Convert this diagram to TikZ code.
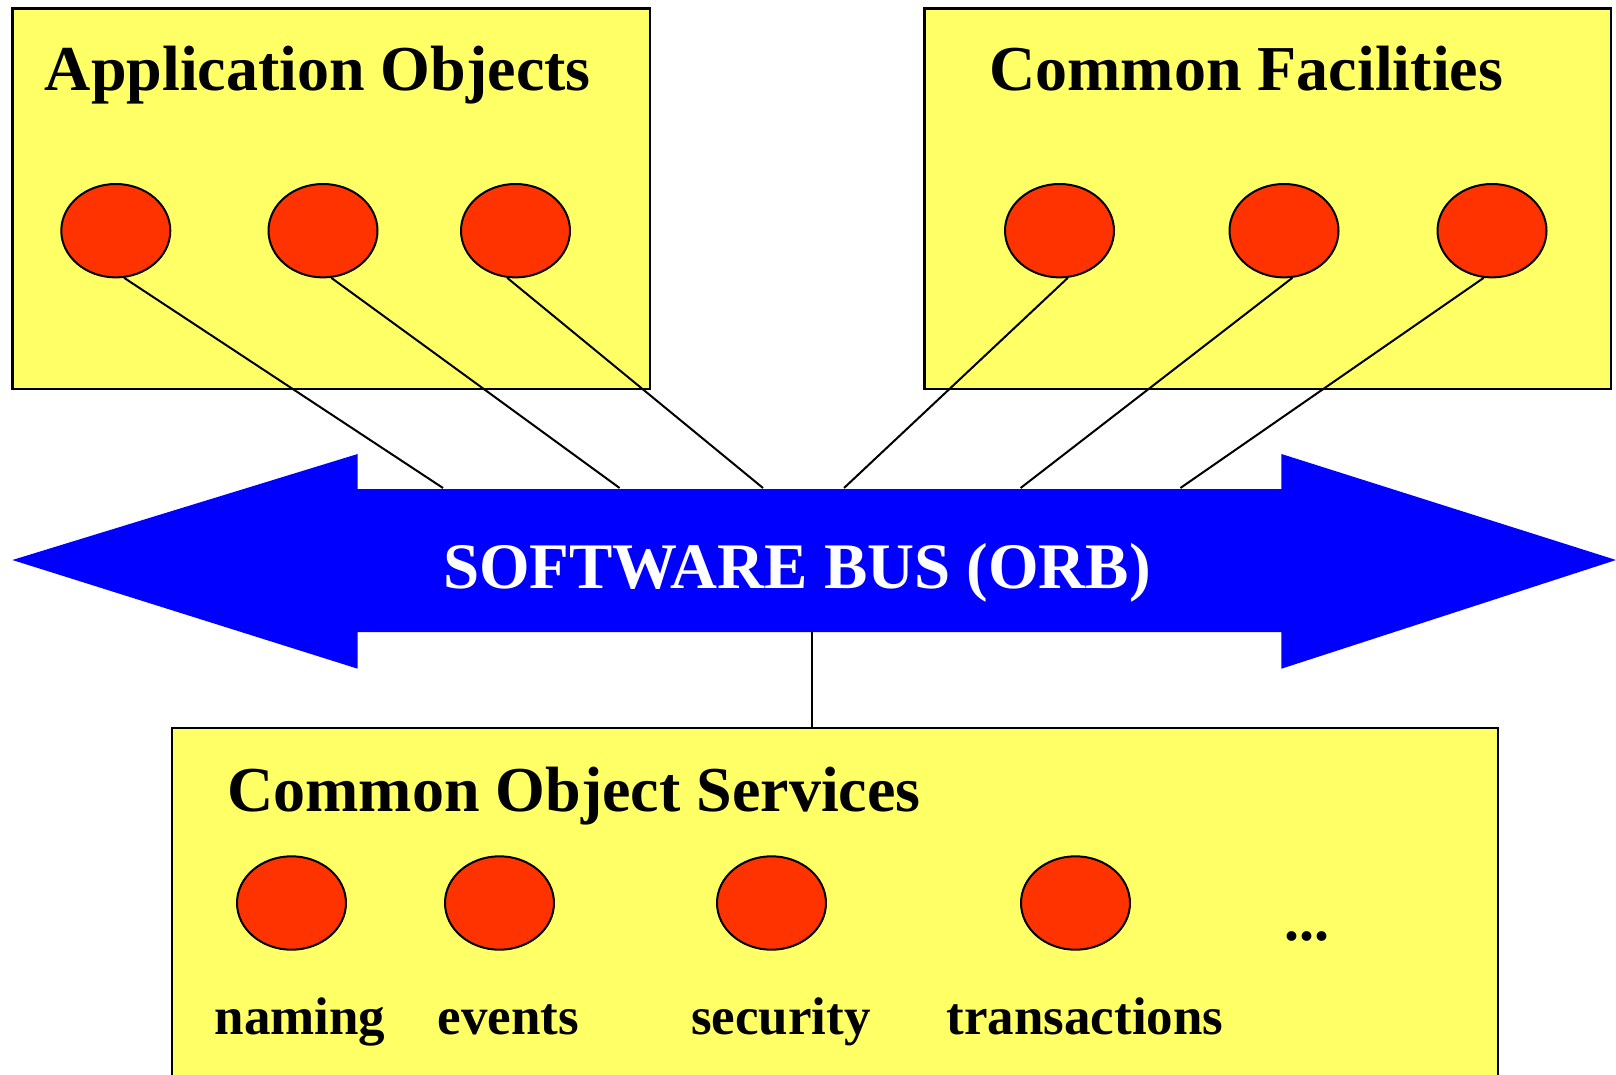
\documentclass[tikz,border=0pt]{standalone}
\usepackage{fontspec}
\setmainfont{Liberation Serif}
\usetikzlibrary{shapes.geometric,calc}
\definecolor{boxyellow}{HTML}{FFFF66}
\definecolor{objred}{HTML}{FF3300}
\definecolor{busblue}{HTML}{0000FF}
\begin{document}
\begin{tikzpicture}[x=0.5pt,y=-0.5pt,
  panel/.style={rectangle, draw=black, line width=1.2pt, fill=boxyellow, inner sep=0pt},
  obj/.style={ellipse, draw=black, line width=1pt, fill=objred, minimum width=54.5pt, minimum height=46.7pt, inner sep=0pt},
  title/.style={anchor=base west, inner sep=0pt, font=\fontsize{32}{38}\selectfont\bfseries},
  svclabel/.style={anchor=base, inner sep=0pt, font=\fontsize{26.5}{32}\selectfont\bfseries},
  link/.style={line width=1pt, draw=black}]
\useasboundingbox (0,0) rectangle (1616,1075);

% panels
\node[panel, minimum width=318.7pt, minimum height=190.25pt] (apppanel) at (331.3,198.75) {};
\node[panel, minimum width=343.2pt, minimum height=190.25pt] (facpanel) at (1267.8,198.75) {};
\node[panel, minimum width=663pt, minimum height=181pt] (cospanel) at (835,909) {};

% titles
\node[title] (apptitle) at (44.5,91) {Application Objects};
\node[title] (factitle) at (989,91) {Common Facilities};
\node[title] (costitle) at (227,811.7) {Common Object Services};

% objects
\node[obj] (a1) at (115.8,230.7) {};
\node[obj] (a2) at (323,230.7) {};
\node[obj] (a3) at (515.5,230.7) {};
\node[obj] (f1) at (1059.5,230.7) {};
\node[obj] (f2) at (1284,230.7) {};
\node[obj] (f3) at (1492,230.7) {};

% bus attachment points
\coordinate (b1) at (443,488);
\coordinate (b2) at (619.6,488);
\coordinate (b3) at (763,488);
\coordinate (b4) at (844,488);
\coordinate (b5) at (1020.6,488);
\coordinate (b6) at (1180.4,488);
\coordinate (bbot) at (812,631);

% connectors
\draw[link] (a1.-80) -- (b1);
\draw[link] (a2.-80) -- (b2);
\draw[link] (a3.-100) -- (b3);
\draw[link] (f1.-80) -- (b4);
\draw[link] (f2.-80) -- (b5);
\draw[link] (f3.-100) -- (b6);
\draw[link] (bbot) -- (bbot |- cospanel.north);

% software bus
\fill[busblue] (12.4,560) -- (357.7,454) -- (357.7,489) -- (1281.4,489) -- (1281.4,454)
  -- (1616,560) -- (1281.4,668.7) -- (1281.4,632) -- (357.7,632) -- (357.7,668.7) -- cycle;
\node[anchor=base, inner sep=0pt, text=white, font=\fontsize{32.5}{39}\selectfont\bfseries] (bustext) at (797,588) {SOFTWARE BUS (ORB)};

% common object services
\node[obj] (s1) at (291.5,903) {};
\node[obj] (s2) at (499.5,903) {};
\node[obj] (s3) at (771.5,903) {};
\node[obj] (s4) at (1075.5,903) {};
\node[svclabel] (l1) at (300,1034) {naming};
\node[svclabel] (l2) at (508.5,1034) {events};
\node[svclabel] (l3) at (781,1034) {security};
\node[svclabel] (l4) at (1085,1034) {transactions};
\node[svclabel, font=\fontsize{30}{36}\selectfont\bfseries] (more) at (1307,940) {...};
\end{tikzpicture}
\end{document}
